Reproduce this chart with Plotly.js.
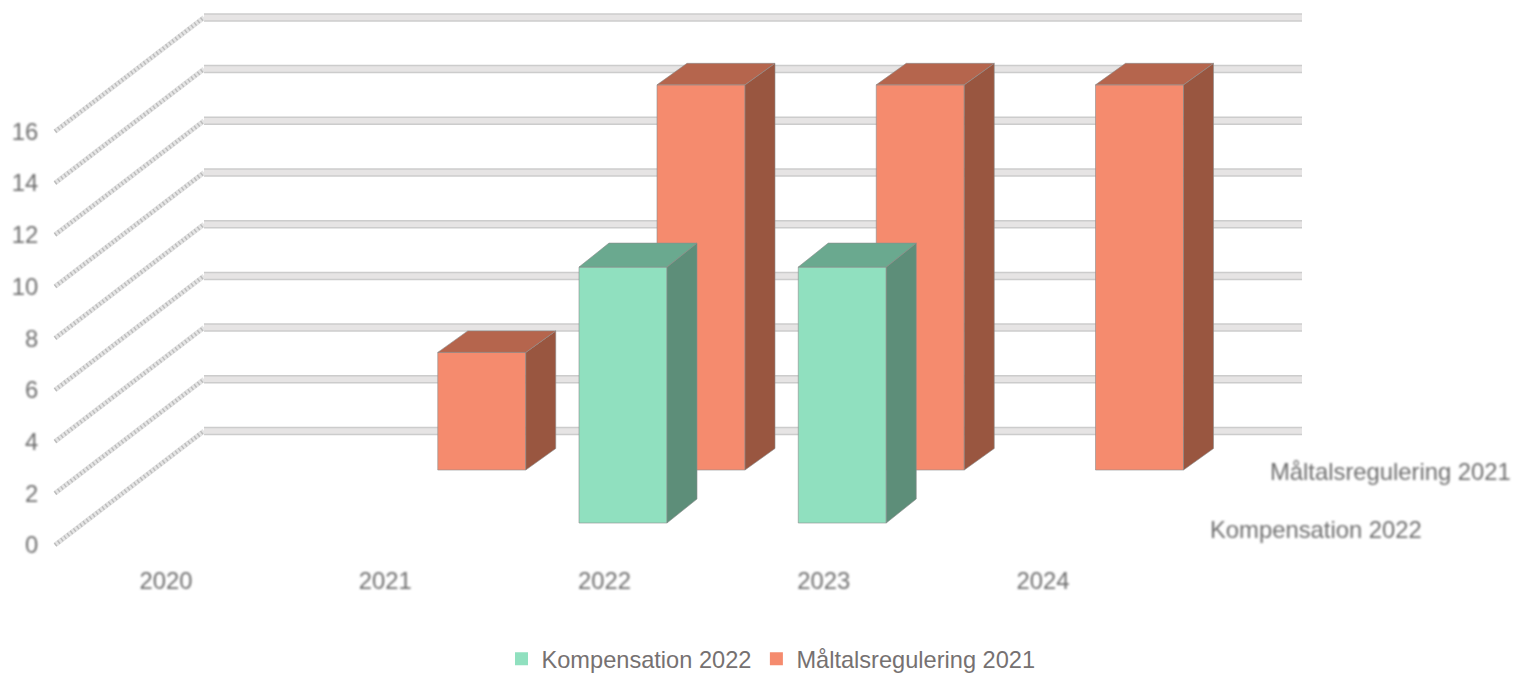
<!DOCTYPE html>
<html>
<head>
<meta charset="utf-8">
<script src="https://cdn.plot.ly/plotly-3.0.1.min.js"></script>
<style>
html,body{margin:0;padding:0;background:#fff;}
#chart{width:1514px;height:674px;}
#chart .xtick text,#chart .ytick text,#chart .annotation-text-g text{filter:url(#soft) !important;}
#chart .scatterlayer .trace{filter:url(#soft2) !important;}
</style>
</head>
<body>
<svg width="1" height="1" style="position:absolute;left:0;top:0"><defs>
<filter id="soft" x="-20%" y="-40%" width="140%" height="180%"><feGaussianBlur stdDeviation="0.9"/></filter>
<filter id="soft2" filterUnits="userSpaceOnUse" x="-100" y="-100" width="1714" height="874"><feGaussianBlur stdDeviation="0.7"/></filter>
</defs></svg>
<div id="chart"></div>
<script>
// Chart values
const years = [2020, 2021, 2022, 2023, 2024];
const kompensation = [null, null, 9.9, 9.9, null];
const maltalsregulering = [null, 4.55, 14.9, 14.9, 14.9];
const yTicks = [0, 2, 4, 6, 8, 10, 12, 14, 16];
const kompName = 'Kompensation 2022';
const maltalName = 'Måltalsregulering 2021';

// Oblique-projection geometry (screen scale of the two axes)
const W = 1514, H = 674, L = 50, B = 557;
const pxPerYear = 219.25, x2020 = 166, pxPerUnit = 25.85, y0Px = 545;
const xLen = px => px / pxPerYear, yLen = px => px / pxPerUnit;
const xAt = px => years[0] + xLen(px - x2020);
const yAt = px => yLen(y0Px - px);

const wall = {x: xLen(149), y: yLen(114), startX: xAt(55), endX: xAt(1302)};
const barW = xLen(88), barDx = xLen(30);

const series = [
  {name: maltalName, vals: maltalsregulering, off: xLen(52.5), base: yAt(470), dy: yLen(21.5),
   front: '#F58B6E', top: '#B5654D', side: '#99563F'},
  {name: kompName, vals: kompensation, off: xLen(-25.5), base: yAt(523), dy: yLen(24),
   front: '#90E0BF', top: '#6BA98F', side: '#5D8E79'}
];

const traces = [];
// back wall + left wall lines
yTicks.forEach(v => {
  const gx = [wall.startX + wall.x, wall.endX], gy = [v + wall.y, v + wall.y];
  const dx = [wall.startX, wall.startX + wall.x], dy = [v, v + wall.y];
  const common = {type: 'scatter', mode: 'lines', hoverinfo: 'skip', showlegend: false, cliponaxis: false};
  traces.push({...common, x: gx, y: gy, line: {color: '#cccccc', width: 8.5}});
  traces.push({...common, x: gx, y: gy, line: {color: '#e6e4e4', width: 5.5}});
  traces.push({...common, x: dx, y: dy, line: {color: '#e4e4e4', width: 5}});
  traces.push({...common, x: dx, y: dy, line: {color: '#bdbdbd', width: 4, dash: '1.5px 2.5px'}});
});
// bars
series.forEach(s => {
  years.forEach((yr, i) => {
    const v = s.vals[i];
    if (v === null) return;
    const x0 = yr + s.off, x1 = x0 + barW, y0 = s.base, y1 = y0 + v;
    const face = (xs, ys, col) => traces.push({
      type: 'scatter', mode: 'lines', x: xs, y: ys, fill: 'toself', fillcolor: col,
      line: {color: 'rgba(140,140,140,0.6)', width: 1}, hoverinfo: 'skip', showlegend: false
    });
    face([x0, x1, x1, x0, x0], [y0, y0, y1, y1, y0], s.front);
    face([x1, x1 + barDx, x1 + barDx, x1, x1], [y0, y0 + s.dy, y1 + s.dy, y1, y0], s.side);
    face([x0, x1, x1 + barDx, x0 + barDx, x0], [y1, y1, y1 + s.dy, y1 + s.dy, y1], s.top);
  });
});
// legend entries
[series[1], series[0]].forEach(s => traces.push({
  type: 'scatter', mode: 'markers', name: s.name, x: [null], y: [null],
  marker: {symbol: 'square', size: 13, color: s.front}
}));

const axisFont = {family: '"Liberation Sans", Arial, sans-serif', size: 23.8, color: '#6e6e6e'};
const layout = {
  width: W, height: H,
  margin: {l: L, r: 0, t: 0, b: H - B, pad: 0, autoexpand: false},
  paper_bgcolor: '#fff', plot_bgcolor: '#fff',
  showlegend: true,
  legend: {orientation: 'h', x: (771 - L) / (W - L), xanchor: 'center', y: (B - 659) / B, yanchor: 'middle',
    font: {family: '"Liberation Sans", Arial, sans-serif', size: 23.6, color: '#767171'}, itemwidth: 30,
    traceorder: 'normal', bgcolor: 'rgba(0,0,0,0)'},
  xaxis: {range: [xAt(L), xAt(W)], tickmode: 'array', tickvals: years, ticktext: years.map(String),
    showgrid: false, zeroline: false, showline: false, ticks: 'outside', ticklen: 2, tickcolor: 'rgba(0,0,0,0)',
    tickfont: axisFont, fixedrange: true},
  yaxis: {range: [yAt(B), yAt(0)], tickmode: 'array', tickvals: yTicks, ticktext: yTicks.map(String),
    showgrid: false, zeroline: false, showline: false, ticks: 'outside', ticklen: 6, tickcolor: 'rgba(0,0,0,0)',
    tickfont: axisFont, fixedrange: true},
  annotations: [
    {text: maltalName, x: xAt(1390), y: yAt(471), xref: 'x', yref: 'y', showarrow: false, font: axisFont, xanchor: 'center', yanchor: 'middle'},
    {text: kompName, x: xAt(1316), y: yAt(529), xref: 'x', yref: 'y', showarrow: false, font: axisFont, xanchor: 'center', yanchor: 'middle'}
  ]
};
Plotly.newPlot('chart', traces, layout, {displayModeBar: false, responsive: false});
</script>
</body>
</html>
